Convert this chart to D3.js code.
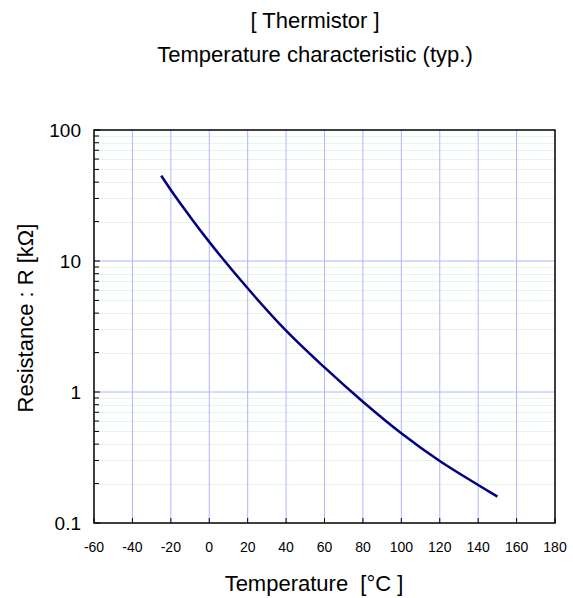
<!DOCTYPE html>
<html><head><meta charset="utf-8">
<script src="https://cdn.jsdelivr.net/npm/d3@7"></script>
<style>
html,body{margin:0;padding:0;background:#fff;}
text{font-family:"Liberation Sans",Arial,sans-serif;fill:#000;white-space:pre;}
</style></head>
<body><svg id="c" width="573" height="598"></svg>
<script>
const titleLines = ["[ Thermistor ]", "Temperature characteristic (typ.)"];
const xTitle = "Temperature  [\u00B0C ]";
const yTitle = "Resistance : R [k\u03A9]";
const xTicks = [-60,-40,-20,0,20,40,60,80,100,120,140,160,180];
const yTicks = [0.1,1,10,100];
const yTickLabels = ["0.1","1","10","100"];
const temps  = [-25, -20, -10, 0, 20, 40, 60, 80, 100, 120, 140, 150];
const resist = [44.8, 34.8, 21.8, 14.0, 6.19, 2.94, 1.54, 0.843, 0.484, 0.297, 0.195, 0.159];

const svg = d3.select("#c");
const L=94, R=555, T=130, B=523;
const x = d3.scaleLinear().domain([-60,180]).range([L,R]);
const y = d3.scaleLog().domain([0.1,100]).range([B,T]);

// minor horizontal grid
const minors=[];
[0.1,1,10].forEach(d=>{for(let k=2;k<=9;k++) minors.push(d*k);});
svg.append("g").selectAll("line").data(minors).join("line")
  .attr("x1",L).attr("x2",R).attr("y1",d=>Math.round(y(d))+0.5).attr("y2",d=>Math.round(y(d))+0.5)
  .attr("stroke","#e4f6e4").attr("stroke-width",1);
// vertical grid
svg.append("g").selectAll("line").data(xTicks.slice(1,-1)).join("line")
  .attr("x1",d=>x(d)).attr("x2",d=>x(d)).attr("y1",T).attr("y2",B)
  .attr("stroke","#b4b4ff").attr("stroke-width",1);
// major horizontal grid
svg.append("g").selectAll("line").data([1,10]).join("line")
  .attr("x1",L).attr("x2",R).attr("y1",d=>y(d)).attr("y2",d=>y(d))
  .attr("stroke","#b4b4ff").attr("stroke-width",1);

// frame
svg.append("rect").attr("x",L).attr("y",T).attr("width",R-L).attr("height",B-T)
  .attr("fill","none").attr("stroke","#000").attr("stroke-width",1.5);

// y ticks (inward)
svg.append("g").selectAll("line").data(minors.concat(yTicks)).join("line")
  .attr("x1",L).attr("x2",d=>L+(yTicks.includes(d)?6:5)).attr("y1",d=>y(d)).attr("y2",d=>y(d))
  .attr("stroke","#000").attr("stroke-width",1);
// x ticks (inward)
svg.append("g").selectAll("line").data(xTicks).join("line")
  .attr("x1",d=>x(d)).attr("x2",d=>x(d)).attr("y1",B).attr("y2",B-5)
  .attr("stroke","#000").attr("stroke-width",1);

// tick labels
svg.append("g").selectAll("text").data(yTicks).join("text")
  .attr("x",L-13).attr("y",d=>y(d)).attr("dy","0.35em").attr("text-anchor","end")
  .attr("font-size",19).text((d,i)=>yTickLabels[i]);
svg.append("g").selectAll("text").data(xTicks).join("text")
  .attr("x",d=>x(d)).attr("y",B+29).attr("text-anchor","middle")
  .attr("font-size",14).text(d=>d);

// curve
const line = d3.line().x(d=>x(d[0])).y(d=>y(d[1])).curve(d3.curveMonotoneX);
svg.append("path").datum(temps.map((t,i)=>[t,resist[i]]))
  .attr("d",line).attr("fill","none").attr("stroke","#000080").attr("stroke-width",2.5);

// titles
svg.append("text").attr("x",315).attr("y",28).attr("text-anchor","middle").attr("font-size",22).text(titleLines[0]);
svg.append("text").attr("x",315).attr("y",62).attr("text-anchor","middle").attr("font-size",22).text(titleLines[1]);
svg.append("text").attr("x",314).attr("y",591).attr("text-anchor","middle").attr("font-size",22).text(xTitle);
svg.append("text").attr("transform","translate(33,318) rotate(-90)").attr("text-anchor","middle").attr("font-size",22).text(yTitle);
</script></body></html>
